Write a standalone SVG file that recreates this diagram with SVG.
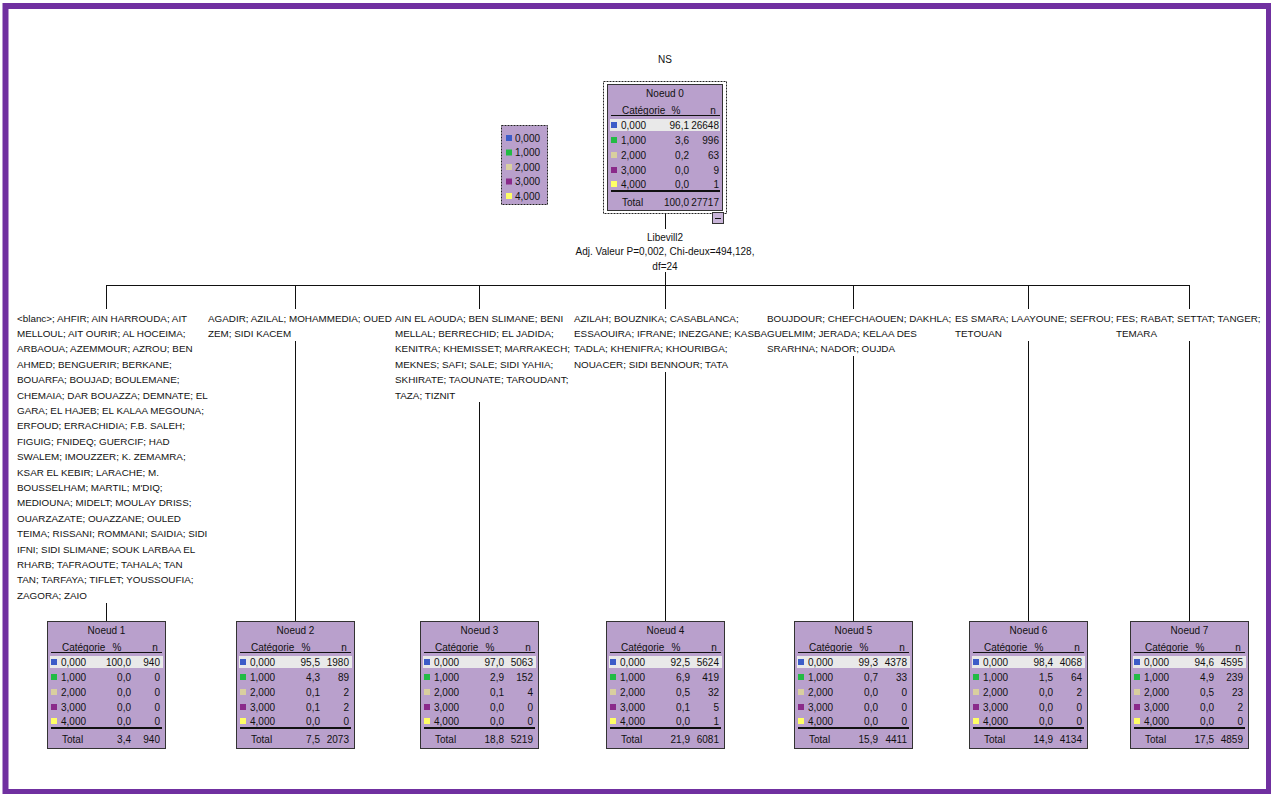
<svg xmlns="http://www.w3.org/2000/svg" width="1271" height="794" viewBox="0 0 1271 794">
  <style>
    .t { font-family: "Liberation Sans", Arial, sans-serif; font-size: 10px; fill: #111; }
    .lbl { font-size: 9.85px; }
    .m { text-anchor: middle; }
    .e { text-anchor: end; }
    .box { fill: #b9a0cc; stroke: #333; stroke-width: 1; }
    .hl { fill: #e9e9e9; }
    .rule { stroke: #111; stroke-width: 1; }
    .rule2 { stroke: #111; stroke-width: 2; }
    .c0 { fill: #3c5cc8; }
    .c1 { fill: #22bb44; }
    .c2 { fill: #d9cf9f; }
    .c3 { fill: #8a2a8a; }
    .c4 { fill: #ffff66; }
    .wire { stroke: #111; stroke-width: 1; fill: none; }
    .dash { fill: none; stroke: #222; stroke-width: 1; stroke-dasharray: 2 1; }
  </style>

  <rect width="1271" height="794" fill="#ffffff"/>
  <!-- outer frame -->
  <rect x="5.5" y="6" width="1263.5" height="786" fill="none" stroke="#7030a0" stroke-width="6"/>

  <text class="t m" x="665" y="62.5">NS</text>

  <!-- category legend -->
  <g id="legend">
    <rect x="501.5" y="125.5" width="46" height="79" fill="#b9a0cc"/>
    <rect class="dash" x="501.5" y="125.5" width="46" height="79"/>
    <rect class="c0" x="506" y="135" width="6" height="6"/>
    <text class="t" x="515" y="141.5">0,000</text>
    <rect class="c1" x="506" y="149.5" width="6" height="6"/>
    <text class="t" x="515" y="156">1,000</text>
    <rect class="c2" x="506" y="164" width="6" height="6"/>
    <text class="t" x="515" y="170.5">2,000</text>
    <rect class="c3" x="506" y="178.5" width="6" height="6"/>
    <text class="t" x="515" y="185">3,000</text>
    <rect class="c4" x="506" y="193" width="6" height="6"/>
    <text class="t" x="515" y="199.5">4,000</text>
  </g>

  <!-- connectors -->
  <g id="connectors">
    <line class="wire" x1="665.5" y1="214" x2="665.5" y2="229"/>
    <line class="wire" x1="665.5" y1="272" x2="665.5" y2="285"/>
    <line class="wire" x1="106.5" y1="285.5" x2="1189.5" y2="285.5"/>
    <path class="wire" d="M106.5 285 V309 M106.5 603 V621"/>
    <path class="wire" d="M295.5 285 V309 M295.5 341 V621"/>
    <path class="wire" d="M479.5 285 V309 M479.5 402 V621"/>
    <path class="wire" d="M665.5 285 V309 M665.5 372 V621"/>
    <path class="wire" d="M853.5 285 V309 M853.5 356 V621"/>
    <path class="wire" d="M1028.5 285 V309 M1028.5 341 V621"/>
    <path class="wire" d="M1189.5 285 V309 M1189.5 341 V621"/>
  </g>

  <!-- split description -->
  <g id="split">
    <text class="t m" x="665" y="240.5">Libevill2</text>
    <text class="t m" x="665" y="254.5">Adj. Valeur P=0,002, Chi-deux=494,128,</text>
    <text class="t m" x="665" y="269.5">df=24</text>
  </g>

  <!-- branch labels -->
  <g id="branch-labels">
    <text class="t lbl">
      <tspan x="17" y="321.5">&lt;blanc&gt;; AHFIR; AIN HARROUDA; AIT</tspan>
      <tspan x="17" y="336.9">MELLOUL; AIT OURIR; AL HOCEIMA;</tspan>
      <tspan x="17" y="352.3">ARBAOUA; AZEMMOUR; AZROU; BEN</tspan>
      <tspan x="17" y="367.7">AHMED; BENGUERIR; BERKANE;</tspan>
      <tspan x="17" y="383.1">BOUARFA; BOUJAD; BOULEMANE;</tspan>
      <tspan x="17" y="398.5">CHEMAIA; DAR BOUAZZA; DEMNATE; EL</tspan>
      <tspan x="17" y="413.9">GARA; EL HAJEB; EL KALAA MEGOUNA;</tspan>
      <tspan x="17" y="429.3">ERFOUD; ERRACHIDIA; F.B. SALEH;</tspan>
      <tspan x="17" y="444.7">FIGUIG; FNIDEQ; GUERCIF; HAD</tspan>
      <tspan x="17" y="460.1">SWALEM; IMOUZZER; K. ZEMAMRA;</tspan>
      <tspan x="17" y="475.5">KSAR EL KEBIR; LARACHE; M.</tspan>
      <tspan x="17" y="490.9">BOUSSELHAM; MARTIL; M'DIQ;</tspan>
      <tspan x="17" y="506.3">MEDIOUNA; MIDELT; MOULAY DRISS;</tspan>
      <tspan x="17" y="521.7">OUARZAZATE; OUAZZANE; OULED</tspan>
      <tspan x="17" y="537.1">TEIMA; RISSANI; ROMMANI; SAIDIA; SIDI</tspan>
      <tspan x="17" y="552.5">IFNI; SIDI SLIMANE; SOUK LARBAA EL</tspan>
      <tspan x="17" y="567.9">RHARB; TAFRAOUTE; TAHALA; TAN</tspan>
      <tspan x="17" y="583.3">TAN; TARFAYA; TIFLET; YOUSSOUFIA;</tspan>
      <tspan x="17" y="598.7">ZAGORA; ZAIO</tspan>
    </text>
    <text class="t lbl">
      <tspan x="208" y="321.5">AGADIR; AZILAL; MOHAMMEDIA; OUED</tspan>
      <tspan x="208" y="336.9">ZEM; SIDI KACEM</tspan>
    </text>
    <text class="t lbl">
      <tspan x="395" y="321.5">AIN EL AOUDA; BEN SLIMANE; BENI</tspan>
      <tspan x="395" y="336.9">MELLAL; BERRECHID; EL JADIDA;</tspan>
      <tspan x="395" y="352.3">KENITRA; KHEMISSET; MARRAKECH;</tspan>
      <tspan x="395" y="367.7">MEKNES; SAFI; SALE; SIDI YAHIA;</tspan>
      <tspan x="395" y="383.1">SKHIRATE; TAOUNATE; TAROUDANT;</tspan>
      <tspan x="395" y="398.5">TAZA; TIZNIT</tspan>
    </text>
    <text class="t lbl">
      <tspan x="574" y="321.5">AZILAH; BOUZNIKA; CASABLANCA;</tspan>
      <tspan x="574" y="336.9">ESSAOUIRA; IFRANE; INEZGANE; KASBA</tspan>
      <tspan x="574" y="352.3">TADLA; KHENIFRA; KHOURIBGA;</tspan>
      <tspan x="574" y="367.7">NOUACER; SIDI BENNOUR; TATA</tspan>
    </text>
    <text class="t lbl">
      <tspan x="767" y="321.5">BOUJDOUR; CHEFCHAOUEN; DAKHLA;</tspan>
      <tspan x="767" y="336.9">GUELMIM; JERADA; KELAA DES</tspan>
      <tspan x="767" y="352.3">SRARHNA; NADOR; OUJDA</tspan>
    </text>
    <text class="t lbl">
      <tspan x="955" y="321.5">ES SMARA; LAAYOUNE; SEFROU;</tspan>
      <tspan x="955" y="336.9">TETOUAN</tspan>
    </text>
    <text class="t lbl">
      <tspan x="1116" y="321.5">FES; RABAT; SETTAT; TANGER;</tspan>
      <tspan x="1116" y="336.9">TEMARA</tspan>
    </text>
  </g>

  <!-- root node -->
  <g id="node0">
    <rect class="dash" x="603.5" y="81.5" width="123" height="132"/>
    <g transform="translate(607,84)">
      <rect class="box" x="0.5" y="0.5" width="115" height="126"/>
      <text class="t m" x="58" y="12.5">Noeud 0</text>
      <text class="t" x="15" y="29.5">Catégorie</text>
      <text class="t m" x="69" y="29.5">%</text>
      <text class="t m" x="106" y="29.5">n</text>
      <line class="rule" x1="4" y1="31.5" x2="113" y2="31.5"/>
      <rect class="hl" x="3" y="35" width="110" height="12"/>
      <rect class="c0" x="4" y="38" width="6" height="6"/>
      <rect class="c1" x="4" y="53" width="6" height="6"/>
      <rect class="c2" x="4" y="68" width="6" height="6"/>
      <rect class="c3" x="4" y="83" width="6" height="6"/>
      <rect class="c4" x="4" y="97" width="6" height="6"/>
      <text class="t" x="14" y="44.5">0,000</text>
      <text class="t" x="14" y="59.5">1,000</text>
      <text class="t" x="14" y="74.5">2,000</text>
      <text class="t" x="14" y="89.5">3,000</text>
      <text class="t" x="14" y="103.5">4,000</text>
      <text class="t e" x="82" y="44.5">96,1</text>
      <text class="t e" x="82" y="59.5">3,6</text>
      <text class="t e" x="82" y="74.5">0,2</text>
      <text class="t e" x="82" y="89.5">0,0</text>
      <text class="t e" x="82" y="103.5">0,0</text>
      <text class="t e" x="112" y="44.5">26648</text>
      <text class="t e" x="112" y="59.5">996</text>
      <text class="t e" x="112" y="74.5">63</text>
      <text class="t e" x="112" y="89.5">9</text>
      <text class="t e" x="112" y="103.5">1</text>
      <line class="rule2" x1="4" y1="107" x2="113" y2="107"/>
      <text class="t" x="15" y="121.5">Total</text>
      <text class="t e" x="82" y="121.5">100,0</text>
      <text class="t e" x="112" y="121.5">27717</text>
    </g>
    <rect x="712.5" y="212.5" width="11" height="11" fill="#c8b4d8" stroke="#333"/>
    <line x1="715" y1="218.5" x2="721" y2="218.5" stroke="#111"/>
  </g>

  <!-- leaf nodes -->
  <g id="node1" transform="translate(47,621)">
    <rect class="box" x="0.5" y="0.5" width="118" height="127"/>
    <text class="t m" x="59.5" y="12.5">Noeud 1</text>
    <text class="t" x="15" y="29.5">Catégorie</text>
    <text class="t m" x="70" y="29.5">%</text>
    <text class="t m" x="108" y="29.5">n</text>
    <line class="rule" x1="4" y1="31.5" x2="115" y2="31.5"/>
    <rect class="hl" x="3" y="35" width="113" height="12"/>
    <rect class="c0" x="4" y="38" width="6" height="6"/>
    <rect class="c1" x="4" y="53" width="6" height="6"/>
    <rect class="c2" x="4" y="68" width="6" height="6"/>
    <rect class="c3" x="4" y="83" width="6" height="6"/>
    <rect class="c4" x="4" y="97" width="6" height="6"/>
    <text class="t" x="14" y="44.5">0,000</text>
    <text class="t" x="14" y="59.5">1,000</text>
    <text class="t" x="14" y="74.5">2,000</text>
    <text class="t" x="14" y="89.5">3,000</text>
    <text class="t" x="14" y="103.5">4,000</text>
    <text class="t e" x="84" y="44.5">100,0</text>
    <text class="t e" x="84" y="59.5">0,0</text>
    <text class="t e" x="84" y="74.5">0,0</text>
    <text class="t e" x="84" y="89.5">0,0</text>
    <text class="t e" x="84" y="103.5">0,0</text>
    <text class="t e" x="113" y="44.5">940</text>
    <text class="t e" x="113" y="59.5">0</text>
    <text class="t e" x="113" y="74.5">0</text>
    <text class="t e" x="113" y="89.5">0</text>
    <text class="t e" x="113" y="103.5">0</text>
    <line class="rule2" x1="4" y1="107" x2="115" y2="107"/>
    <text class="t" x="15" y="121.5">Total</text>
    <text class="t e" x="84" y="121.5">3,4</text>
    <text class="t e" x="113" y="121.5">940</text>
  </g>

  <g id="node2" transform="translate(236,621)">
    <rect class="box" x="0.5" y="0.5" width="118" height="127"/>
    <text class="t m" x="59.5" y="12.5">Noeud 2</text>
    <text class="t" x="15" y="29.5">Catégorie</text>
    <text class="t m" x="70" y="29.5">%</text>
    <text class="t m" x="108" y="29.5">n</text>
    <line class="rule" x1="4" y1="31.5" x2="115" y2="31.5"/>
    <rect class="hl" x="3" y="35" width="113" height="12"/>
    <rect class="c0" x="4" y="38" width="6" height="6"/>
    <rect class="c1" x="4" y="53" width="6" height="6"/>
    <rect class="c2" x="4" y="68" width="6" height="6"/>
    <rect class="c3" x="4" y="83" width="6" height="6"/>
    <rect class="c4" x="4" y="97" width="6" height="6"/>
    <text class="t" x="14" y="44.5">0,000</text>
    <text class="t" x="14" y="59.5">1,000</text>
    <text class="t" x="14" y="74.5">2,000</text>
    <text class="t" x="14" y="89.5">3,000</text>
    <text class="t" x="14" y="103.5">4,000</text>
    <text class="t e" x="84" y="44.5">95,5</text>
    <text class="t e" x="84" y="59.5">4,3</text>
    <text class="t e" x="84" y="74.5">0,1</text>
    <text class="t e" x="84" y="89.5">0,1</text>
    <text class="t e" x="84" y="103.5">0,0</text>
    <text class="t e" x="113" y="44.5">1980</text>
    <text class="t e" x="113" y="59.5">89</text>
    <text class="t e" x="113" y="74.5">2</text>
    <text class="t e" x="113" y="89.5">2</text>
    <text class="t e" x="113" y="103.5">0</text>
    <line class="rule2" x1="4" y1="107" x2="115" y2="107"/>
    <text class="t" x="15" y="121.5">Total</text>
    <text class="t e" x="84" y="121.5">7,5</text>
    <text class="t e" x="113" y="121.5">2073</text>
  </g>

  <g id="node3" transform="translate(420,621)">
    <rect class="box" x="0.5" y="0.5" width="118" height="127"/>
    <text class="t m" x="59.5" y="12.5">Noeud 3</text>
    <text class="t" x="15" y="29.5">Catégorie</text>
    <text class="t m" x="70" y="29.5">%</text>
    <text class="t m" x="108" y="29.5">n</text>
    <line class="rule" x1="4" y1="31.5" x2="115" y2="31.5"/>
    <rect class="hl" x="3" y="35" width="113" height="12"/>
    <rect class="c0" x="4" y="38" width="6" height="6"/>
    <rect class="c1" x="4" y="53" width="6" height="6"/>
    <rect class="c2" x="4" y="68" width="6" height="6"/>
    <rect class="c3" x="4" y="83" width="6" height="6"/>
    <rect class="c4" x="4" y="97" width="6" height="6"/>
    <text class="t" x="14" y="44.5">0,000</text>
    <text class="t" x="14" y="59.5">1,000</text>
    <text class="t" x="14" y="74.5">2,000</text>
    <text class="t" x="14" y="89.5">3,000</text>
    <text class="t" x="14" y="103.5">4,000</text>
    <text class="t e" x="84" y="44.5">97,0</text>
    <text class="t e" x="84" y="59.5">2,9</text>
    <text class="t e" x="84" y="74.5">0,1</text>
    <text class="t e" x="84" y="89.5">0,0</text>
    <text class="t e" x="84" y="103.5">0,0</text>
    <text class="t e" x="113" y="44.5">5063</text>
    <text class="t e" x="113" y="59.5">152</text>
    <text class="t e" x="113" y="74.5">4</text>
    <text class="t e" x="113" y="89.5">0</text>
    <text class="t e" x="113" y="103.5">0</text>
    <line class="rule2" x1="4" y1="107" x2="115" y2="107"/>
    <text class="t" x="15" y="121.5">Total</text>
    <text class="t e" x="84" y="121.5">18,8</text>
    <text class="t e" x="113" y="121.5">5219</text>
  </g>

  <g id="node4" transform="translate(606,621)">
    <rect class="box" x="0.5" y="0.5" width="118" height="127"/>
    <text class="t m" x="59.5" y="12.5">Noeud 4</text>
    <text class="t" x="15" y="29.5">Catégorie</text>
    <text class="t m" x="70" y="29.5">%</text>
    <text class="t m" x="108" y="29.5">n</text>
    <line class="rule" x1="4" y1="31.5" x2="115" y2="31.5"/>
    <rect class="hl" x="3" y="35" width="113" height="12"/>
    <rect class="c0" x="4" y="38" width="6" height="6"/>
    <rect class="c1" x="4" y="53" width="6" height="6"/>
    <rect class="c2" x="4" y="68" width="6" height="6"/>
    <rect class="c3" x="4" y="83" width="6" height="6"/>
    <rect class="c4" x="4" y="97" width="6" height="6"/>
    <text class="t" x="14" y="44.5">0,000</text>
    <text class="t" x="14" y="59.5">1,000</text>
    <text class="t" x="14" y="74.5">2,000</text>
    <text class="t" x="14" y="89.5">3,000</text>
    <text class="t" x="14" y="103.5">4,000</text>
    <text class="t e" x="84" y="44.5">92,5</text>
    <text class="t e" x="84" y="59.5">6,9</text>
    <text class="t e" x="84" y="74.5">0,5</text>
    <text class="t e" x="84" y="89.5">0,1</text>
    <text class="t e" x="84" y="103.5">0,0</text>
    <text class="t e" x="113" y="44.5">5624</text>
    <text class="t e" x="113" y="59.5">419</text>
    <text class="t e" x="113" y="74.5">32</text>
    <text class="t e" x="113" y="89.5">5</text>
    <text class="t e" x="113" y="103.5">1</text>
    <line class="rule2" x1="4" y1="107" x2="115" y2="107"/>
    <text class="t" x="15" y="121.5">Total</text>
    <text class="t e" x="84" y="121.5">21,9</text>
    <text class="t e" x="113" y="121.5">6081</text>
  </g>

  <g id="node5" transform="translate(794,621)">
    <rect class="box" x="0.5" y="0.5" width="118" height="127"/>
    <text class="t m" x="59.5" y="12.5">Noeud 5</text>
    <text class="t" x="15" y="29.5">Catégorie</text>
    <text class="t m" x="70" y="29.5">%</text>
    <text class="t m" x="108" y="29.5">n</text>
    <line class="rule" x1="4" y1="31.5" x2="115" y2="31.5"/>
    <rect class="hl" x="3" y="35" width="113" height="12"/>
    <rect class="c0" x="4" y="38" width="6" height="6"/>
    <rect class="c1" x="4" y="53" width="6" height="6"/>
    <rect class="c2" x="4" y="68" width="6" height="6"/>
    <rect class="c3" x="4" y="83" width="6" height="6"/>
    <rect class="c4" x="4" y="97" width="6" height="6"/>
    <text class="t" x="14" y="44.5">0,000</text>
    <text class="t" x="14" y="59.5">1,000</text>
    <text class="t" x="14" y="74.5">2,000</text>
    <text class="t" x="14" y="89.5">3,000</text>
    <text class="t" x="14" y="103.5">4,000</text>
    <text class="t e" x="84" y="44.5">99,3</text>
    <text class="t e" x="84" y="59.5">0,7</text>
    <text class="t e" x="84" y="74.5">0,0</text>
    <text class="t e" x="84" y="89.5">0,0</text>
    <text class="t e" x="84" y="103.5">0,0</text>
    <text class="t e" x="113" y="44.5">4378</text>
    <text class="t e" x="113" y="59.5">33</text>
    <text class="t e" x="113" y="74.5">0</text>
    <text class="t e" x="113" y="89.5">0</text>
    <text class="t e" x="113" y="103.5">0</text>
    <line class="rule2" x1="4" y1="107" x2="115" y2="107"/>
    <text class="t" x="15" y="121.5">Total</text>
    <text class="t e" x="84" y="121.5">15,9</text>
    <text class="t e" x="113" y="121.5">4411</text>
  </g>

  <g id="node6" transform="translate(969,621)">
    <rect class="box" x="0.5" y="0.5" width="118" height="127"/>
    <text class="t m" x="59.5" y="12.5">Noeud 6</text>
    <text class="t" x="15" y="29.5">Catégorie</text>
    <text class="t m" x="70" y="29.5">%</text>
    <text class="t m" x="108" y="29.5">n</text>
    <line class="rule" x1="4" y1="31.5" x2="115" y2="31.5"/>
    <rect class="hl" x="3" y="35" width="113" height="12"/>
    <rect class="c0" x="4" y="38" width="6" height="6"/>
    <rect class="c1" x="4" y="53" width="6" height="6"/>
    <rect class="c2" x="4" y="68" width="6" height="6"/>
    <rect class="c3" x="4" y="83" width="6" height="6"/>
    <rect class="c4" x="4" y="97" width="6" height="6"/>
    <text class="t" x="14" y="44.5">0,000</text>
    <text class="t" x="14" y="59.5">1,000</text>
    <text class="t" x="14" y="74.5">2,000</text>
    <text class="t" x="14" y="89.5">3,000</text>
    <text class="t" x="14" y="103.5">4,000</text>
    <text class="t e" x="84" y="44.5">98,4</text>
    <text class="t e" x="84" y="59.5">1,5</text>
    <text class="t e" x="84" y="74.5">0,0</text>
    <text class="t e" x="84" y="89.5">0,0</text>
    <text class="t e" x="84" y="103.5">0,0</text>
    <text class="t e" x="113" y="44.5">4068</text>
    <text class="t e" x="113" y="59.5">64</text>
    <text class="t e" x="113" y="74.5">2</text>
    <text class="t e" x="113" y="89.5">0</text>
    <text class="t e" x="113" y="103.5">0</text>
    <line class="rule2" x1="4" y1="107" x2="115" y2="107"/>
    <text class="t" x="15" y="121.5">Total</text>
    <text class="t e" x="84" y="121.5">14,9</text>
    <text class="t e" x="113" y="121.5">4134</text>
  </g>

  <g id="node7" transform="translate(1130,621)">
    <rect class="box" x="0.5" y="0.5" width="118" height="127"/>
    <text class="t m" x="59.5" y="12.5">Noeud 7</text>
    <text class="t" x="15" y="29.5">Catégorie</text>
    <text class="t m" x="70" y="29.5">%</text>
    <text class="t m" x="108" y="29.5">n</text>
    <line class="rule" x1="4" y1="31.5" x2="115" y2="31.5"/>
    <rect class="hl" x="3" y="35" width="113" height="12"/>
    <rect class="c0" x="4" y="38" width="6" height="6"/>
    <rect class="c1" x="4" y="53" width="6" height="6"/>
    <rect class="c2" x="4" y="68" width="6" height="6"/>
    <rect class="c3" x="4" y="83" width="6" height="6"/>
    <rect class="c4" x="4" y="97" width="6" height="6"/>
    <text class="t" x="14" y="44.5">0,000</text>
    <text class="t" x="14" y="59.5">1,000</text>
    <text class="t" x="14" y="74.5">2,000</text>
    <text class="t" x="14" y="89.5">3,000</text>
    <text class="t" x="14" y="103.5">4,000</text>
    <text class="t e" x="84" y="44.5">94,6</text>
    <text class="t e" x="84" y="59.5">4,9</text>
    <text class="t e" x="84" y="74.5">0,5</text>
    <text class="t e" x="84" y="89.5">0,0</text>
    <text class="t e" x="84" y="103.5">0,0</text>
    <text class="t e" x="113" y="44.5">4595</text>
    <text class="t e" x="113" y="59.5">239</text>
    <text class="t e" x="113" y="74.5">23</text>
    <text class="t e" x="113" y="89.5">2</text>
    <text class="t e" x="113" y="103.5">0</text>
    <line class="rule2" x1="4" y1="107" x2="115" y2="107"/>
    <text class="t" x="15" y="121.5">Total</text>
    <text class="t e" x="84" y="121.5">17,5</text>
    <text class="t e" x="113" y="121.5">4859</text>
  </g>
</svg>
